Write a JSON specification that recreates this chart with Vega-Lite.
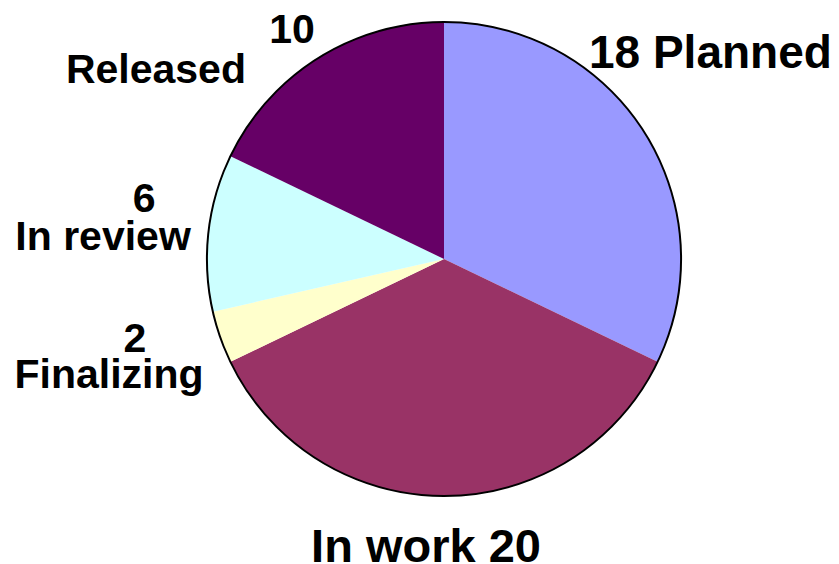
{
  "$schema": "https://vega.github.io/schema/vega-lite/v6.json",
  "width": 474,
  "height": 474,
  "autosize": {"type": "none"},
  "padding": {"left": 207, "top": 22, "right": 158, "bottom": 68},
  "background": "white",
  "config": {"view": {"stroke": null}, "text": {"font": "Liberation Sans", "fontWeight": "bold", "fontSize": 41, "fill": "black"}},
  "data": {"values": [
    {"status": "Planned", "count": 18, "ord": 1, "num": "18", "label": "18 Planned"},
    {"status": "In work", "count": 20, "ord": 2, "num": "20", "label": "In work 20"},
    {"status": "Finalizing", "count": 2, "ord": 3, "num": "2", "label": "Finalizing"},
    {"status": "In review", "count": 6, "ord": 4, "num": "6", "label": "In review"},
    {"status": "Released", "count": 10, "ord": 5, "num": "10", "label": "Released"}
  ]},
  "encoding": {
    "theta": {"field": "count", "type": "quantitative", "stack": true},
    "order": {"field": "ord", "type": "quantitative"}
  },
  "layer": [
    {
      "mark": {"type": "arc", "outerRadius": 237},
      "encoding": {
        "color": {"field": "status", "type": "nominal", "legend": null,
          "scale": {"domain": ["Planned", "In work", "Finalizing", "In review", "Released"],
                    "range": ["#9999FF", "#993366", "#FFFFCC", "#CCFFFF", "#660066"]}}
      }
    },
    {
      "transform": [{"aggregate": [{"op": "sum", "field": "count", "as": "total"}]}],
      "mark": {"type": "arc", "outerRadius": 237, "fill": null, "stroke": "black", "strokeWidth": 2},
      "encoding": {"theta": {"field": "total", "type": "quantitative"}, "order": null}
    },
    {
      "mark": {"type": "text", "radius": 330, "align": "center", "baseline": "alphabetic", "dx": -13, "dy": -15, "fontSize": 46},
      "encoding": {"text": {"condition": {"test": "datum.status == 'Planned'", "field": "label"}, "value": ""}}
    },
    {
      "mark": {"type": "text", "radius": 299, "align": "center", "baseline": "alphabetic", "dx": -18, "dy": 4, "fontSize": 47},
      "encoding": {"text": {"condition": {"test": "datum.status == 'In work'", "field": "label"}, "value": ""}}
    },
    {
      "mark": {"type": "text", "radius": 330, "align": "center", "baseline": "alphabetic", "dx": 2.5, "dy": -16},
      "encoding": {"text": {"condition": {"test": "datum.status == 'Finalizing'", "field": "num"}, "value": ""}}
    },
    {
      "mark": {"type": "text", "radius": 330, "align": "center", "baseline": "alphabetic", "dx": -23.5, "dy": 20},
      "encoding": {"text": {"condition": {"test": "datum.status == 'Finalizing'", "field": "label"}, "value": ""}}
    },
    {
      "mark": {"type": "text", "radius": 330, "align": "center", "baseline": "alphabetic", "dx": 28, "dy": -10},
      "encoding": {"text": {"condition": {"test": "datum.status == 'In review'", "field": "num"}, "value": ""}}
    },
    {
      "mark": {"type": "text", "radius": 330, "align": "center", "baseline": "alphabetic", "dx": -13, "dy": 28},
      "encoding": {"text": {"condition": {"test": "datum.status == 'In review'", "field": "label"}, "value": ""}}
    },
    {
      "mark": {"type": "text", "radius": 330, "align": "center", "baseline": "alphabetic", "dx": 23.5, "dy": 63},
      "encoding": {"text": {"condition": {"test": "datum.status == 'Released'", "field": "num"}, "value": ""}}
    },
    {
      "mark": {"type": "text", "radius": 330, "align": "center", "baseline": "alphabetic", "dx": -112.5, "dy": 103},
      "encoding": {"text": {"condition": {"test": "datum.status == 'Released'", "field": "label"}, "value": ""}}
    }
  ]
}
